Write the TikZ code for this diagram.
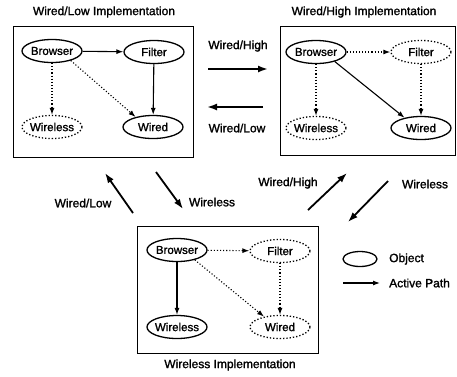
\documentclass[tikz,border=0pt]{standalone}
\usepackage{fontspec}
\setmainfont{Liberation Sans}[FakeBold=1.4]
\usetikzlibrary{shapes.geometric,arrows.meta}
\begin{document}
\begin{tikzpicture}[x=1pt,y=-1pt,
  obj/.style={ellipse,draw,line width=1.3pt,minimum width=60pt,minimum height=23pt,inner sep=0pt,font=\fontsize{11.5}{13}\selectfont},
  ghost/.style={obj,dotted},
  frame/.style={draw,line width=0.9pt,inner sep=0pt},
  act/.style={-{Latex[length=7pt,width=5pt]},line width=1.1pt},
  inact/.style={act,dotted},
  trans/.style={-{Latex[length=10pt,width=7pt]},line width=1.8pt},
  lbl/.style={font=\fontsize{12}{14}\selectfont,inner sep=0pt}]
\useasboundingbox (0,0) rectangle (457,376);

% frames
\node[frame,minimum width=180pt,minimum height=131pt] (box1) at (103,91.5) {};
\node[frame,minimum width=175pt,minimum height=129pt] (box2) at (367.5,90.5) {};
\node[frame,minimum width=181pt,minimum height=127pt] (box3) at (227.5,289.5) {};

% titles
\node[lbl] (t1) at (104,12) {Wired/Low Implementation};
\node[lbl] (t2) at (364,12) {Wired/High Implementation};
\node[lbl] (t3) at (230,365) {Wireless Implementation};

% box 1: Wired/Low
\node[obj]   (b1) at (52,51)  {\makebox[0pt]{Browser}};
\node[obj]   (f1) at (154,52) {\makebox[0pt]{Filter}};
\node[ghost] (w1) at (52,127) {\makebox[0pt]{Wireless}};
\node[obj]   (d1) at (153,127) {\makebox[0pt]{Wired}};
\draw[act] (b1) -- (f1);
\draw[act] (f1) -- (d1);
\draw[inact] (b1) -- (w1);
\draw[inact] (b1.-27) -- (d1.150);

% box 2: Wired/High
\node[obj]   (b2) at (316,52)  {\makebox[0pt]{Browser}};
\node[ghost] (f2) at (421,52)  {\makebox[0pt]{Filter}};
\node[ghost] (w2) at (316,128) {\makebox[0pt]{Wireless}};
\node[obj]   (d2) at (421,128) {\makebox[0pt]{Wired}};
\draw[inact] (b2) -- (f2);
\draw[inact] (f2) -- (d2);
\draw[inact] (b2) -- (w2);
\draw[act] (b2.-27) -- (d2.148);

% box 3: Wireless
\node[obj]   (b3) at (177,250) {\makebox[0pt]{Browser}};
\node[ghost] (f3) at (280,251) {\makebox[0pt]{Filter}};
\node[obj]   (w3) at (177,327) {\makebox[0pt]{Wireless}};
\node[ghost] (d3) at (280,327) {\makebox[0pt]{Wired}};
\draw[inact] (b3) -- (f3);
\draw[inact] (f3) -- (d3);
\draw[act] (b3) -- (w3);
\draw[inact] (b3.-29) -- (d3.147);

% transitions
\coordinate (a1s) at (208,69);  \coordinate (a1e) at (268,69);
\coordinate (a2s) at (263,107); \coordinate (a2e) at (207,107);
\coordinate (a3s) at (133,213); \coordinate (a3e) at (105,173);
\coordinate (a4s) at (156,172); \coordinate (a4e) at (183,209);
\coordinate (a5s) at (308,210); \coordinate (a5e) at (347,173);
\coordinate (a6s) at (388,181); \coordinate (a6e) at (348,222);
\draw[trans] (a1s) -- (a1e);
\draw[trans] (a2s) -- (a2e);
\draw[trans] (a3s) -- (a3e);
\draw[trans] (a4s) -- (a4e);
\draw[trans] (a5s) -- (a5e);
\draw[trans] (a6s) -- (a6e);
\node[lbl] (l1) at (238,46)  {Wired/High};
\node[lbl] (l2) at (237,128) {Wired/Low};
\node[lbl] (l3) at (83,203)  {Wired/Low};
\node[lbl] (l4) at (212,202) {Wireless};
\node[lbl] (l5) at (288,183) {Wired/High};
\node[lbl] (l6) at (425,184) {Wireless};

% legend
\node[ellipse,draw,line width=1.3pt,minimum width=34pt,minimum height=15pt,inner sep=0pt] (leg) at (360,259) {};
\node[lbl,anchor=west] (legt) at (389,259) {Object};
\coordinate (ps) at (343,283);
\coordinate (pe) at (380,283);
\node[lbl,anchor=west] (patht) at (389,283) {Active Path};
\draw[act] (ps) -- (pe);
\end{tikzpicture}
\end{document}
